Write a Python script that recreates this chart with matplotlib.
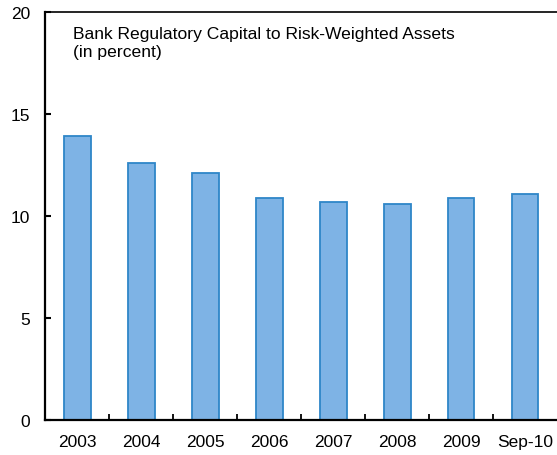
import numpy as np
import matplotlib.pyplot as plt

plt.rcParams['font.family'] = ['Liberation Sans', 'DejaVu Sans']

categories = ["2003", "2004", "2005", "2006", "2007", "2008", "2009", "Sep-10"]
capital_ratio = [13.9, 12.6, 12.1, 10.9, 10.7, 10.6, 10.9, 11.1]
y_ticks = [0, 5, 10, 15, 20]
title_text = "Bank Regulatory Capital to Risk-Weighted Assets\n(in percent)"

fig = plt.figure(figsize=(5.57, 4.56), dpi=100)
ax = fig.add_axes([0.0813, 0.0768, 0.9187, 0.8947])

x = np.arange(len(categories))
ax.bar(x, capital_ratio, width=0.42, color='#7EB3E5', edgecolor='#2E86C8', linewidth=1.3)

ax.set_xlim(-0.5, len(categories) - 0.5)
ax.set_ylim(0, 20)
ax.set_yticks(y_ticks)
ax.set_yticklabels([str(v) for v in y_ticks], fontsize=12.5)

# labels at bar centres, ticks between categories
ax.set_xticks(x)
ax.set_xticklabels(categories, fontsize=12.5)
ax.tick_params(axis='x', which='major', length=0, pad=10)
ax.set_xticks(np.arange(0.5, len(categories) - 0.5, 1), minor=True)
ax.tick_params(axis='x', which='minor', direction='in', length=4, width=1.3)
ax.tick_params(axis='y', direction='in', length=4, width=1.5, pad=11)

ax.spines['right'].set_visible(False)
ax.spines['left'].set_linewidth(1.6)
ax.spines['bottom'].set_linewidth(1.6)
ax.spines['top'].set_linewidth(1.2)

ax.text(0.054, 0.965, title_text, transform=ax.transAxes, fontsize=12.6,
        va='top', ha='left', linespacing=1.2)

fig.savefig("out.png", dpi=100)
